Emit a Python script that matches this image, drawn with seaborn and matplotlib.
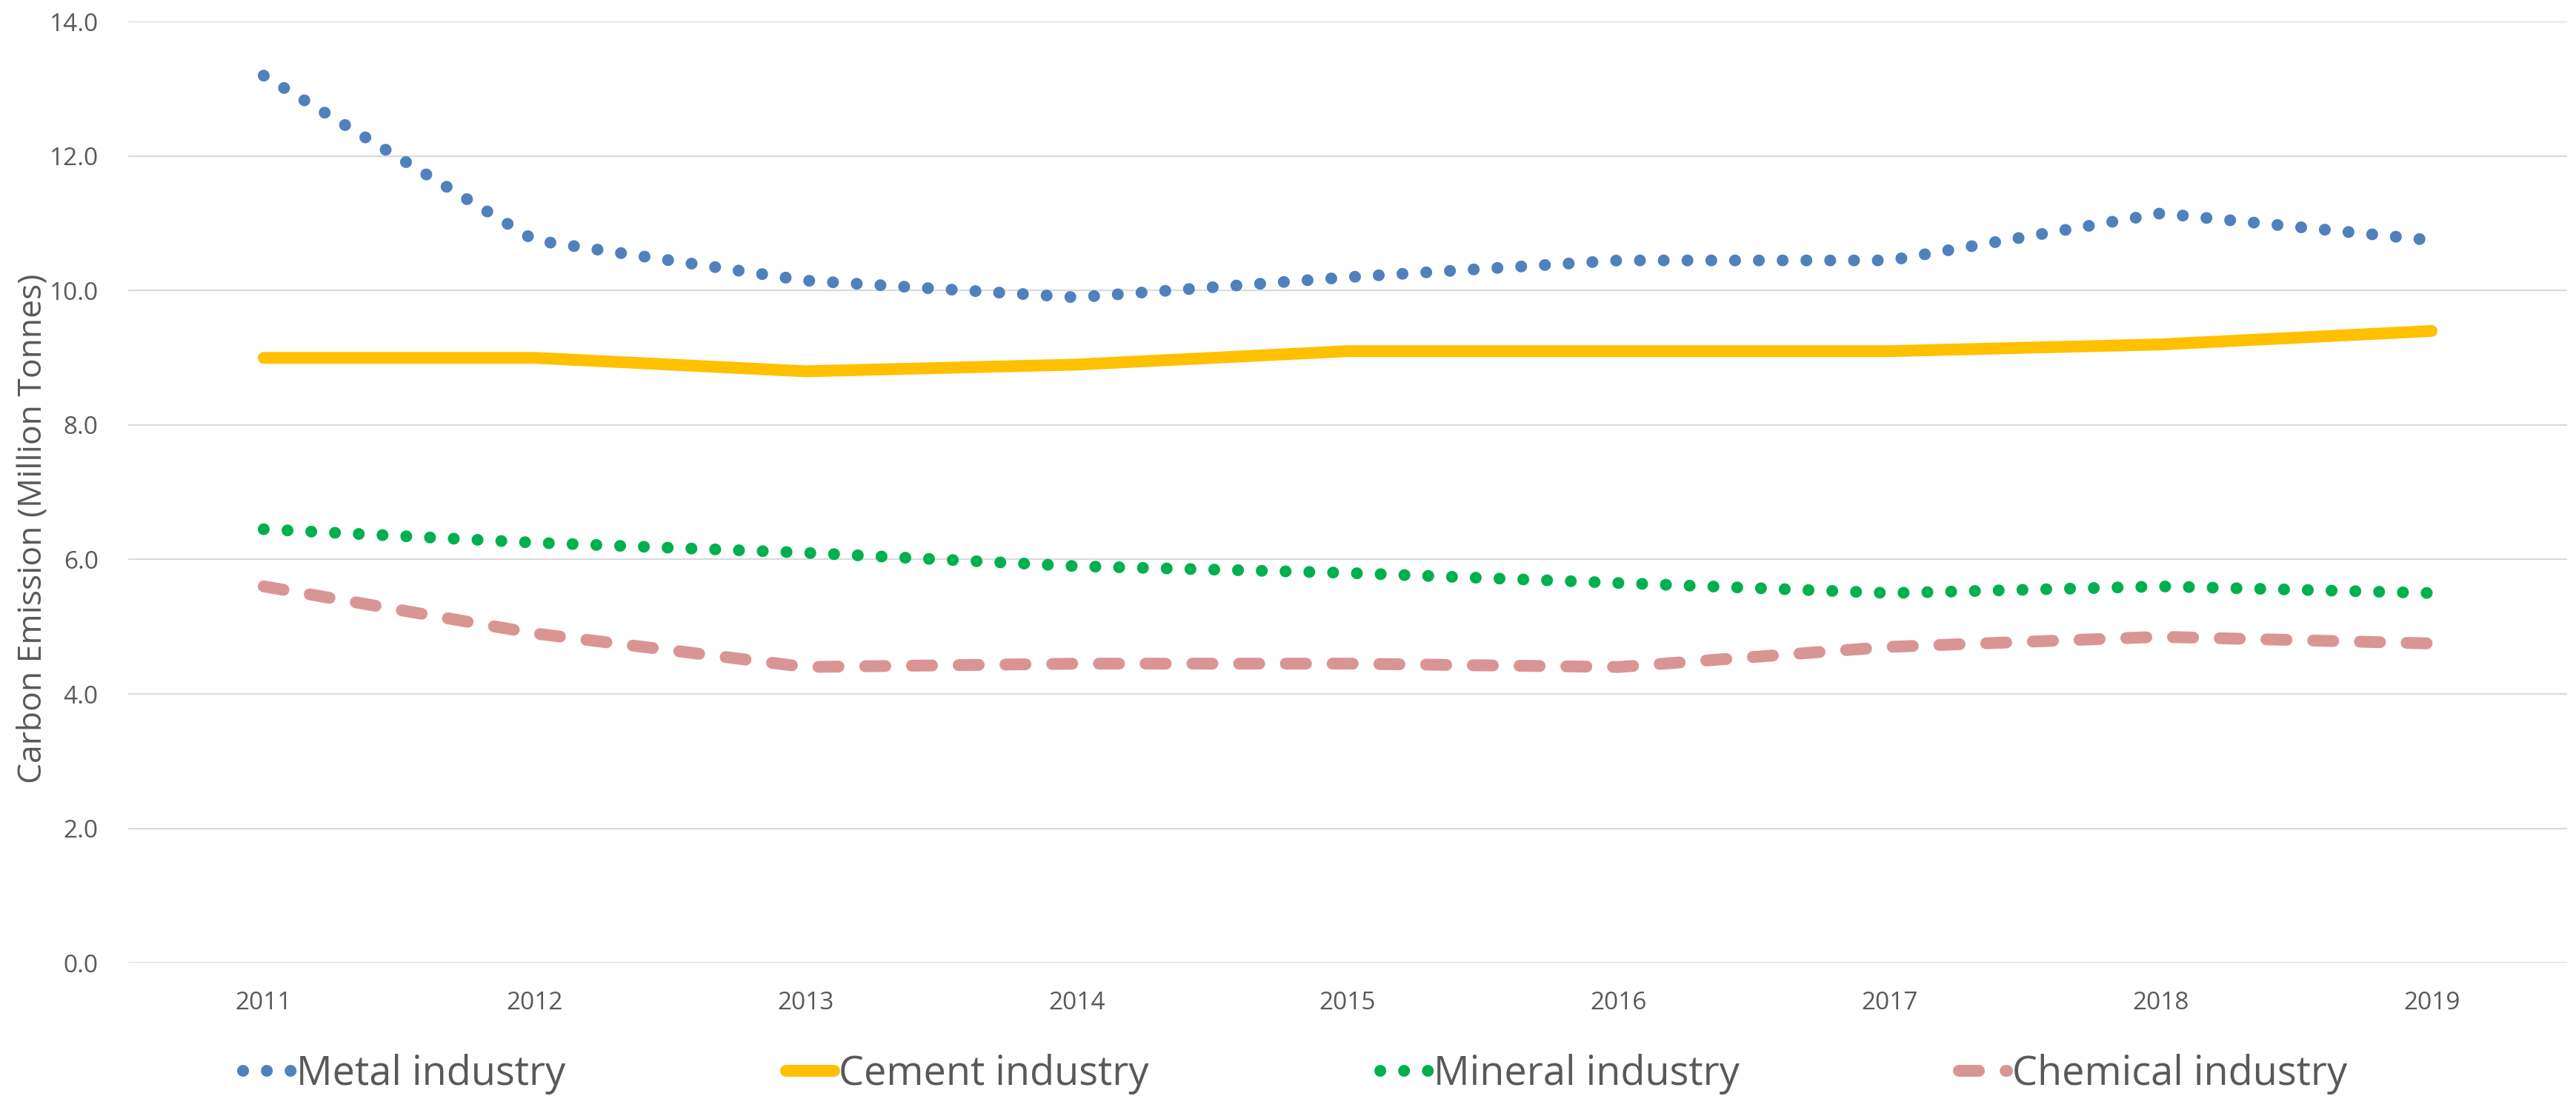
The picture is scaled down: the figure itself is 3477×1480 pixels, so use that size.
import matplotlib
matplotlib.use("Agg")
import matplotlib.pyplot as plt
import seaborn as sns
import pandas as pd
from matplotlib.lines import Line2D

# Carbon emissions by industry (million tonnes)
years = [2011, 2012, 2013, 2014, 2015, 2016, 2017, 2018, 2019]
metal = [13.2, 10.75, 10.15, 9.9, 10.2, 10.45, 10.45, 11.15, 10.75]
cement = [9.0, 9.0, 8.8, 8.9, 9.1, 9.1, 9.1, 9.2, 9.4]
mineral = [6.45, 6.25, 6.1, 5.9, 5.8, 5.65, 5.5, 5.6, 5.5]
chemical = [5.6, 4.9, 4.4, 4.45, 4.45, 4.4, 4.7, 4.85, 4.75]
series_names = ["Metal industry", "Cement industry", "Mineral industry", "Chemical industry"]
y_ticks = [0, 2, 4, 6, 8, 10, 12, 14]

df = pd.DataFrame({"year": years, "Metal industry": metal, "Cement industry": cement,
                   "Mineral industry": mineral, "Chemical industry": chemical})
long_df = df.melt(id_vars="year", var_name="series", value_name="emission")

sns.set_theme(style="whitegrid")
plt.rcParams["font.family"] = ["Open Sans", "DejaVu Sans"]

TEXT = "#595959"
GRID = "#D9D9D9"
LW = 11.5

line_styles = {
    "Metal industry": dict(color="#4F81BD", linestyle=(0, (0.01, 2.0))),
    "Cement industry": dict(color="#FFC000", linestyle="-"),
    "Mineral industry": dict(color="#00B050", linestyle=(0, (0.01, 2.0))),
    "Chemical industry": dict(color="#D99594", linestyle=(0, (1.7, 2.25))),
}

fig = plt.figure(figsize=(34.77, 14.80), dpi=100)
fig.patch.set_facecolor("white")
ax = fig.add_axes([0.04976, 0.12162, 0.94679, 0.85845])

for name in series_names:
    sub = long_df[long_df["series"] == name]
    sns.lineplot(data=sub, x="year", y="emission", ax=ax, legend=False,
                 linewidth=LW, dash_capstyle="round", solid_capstyle="round",
                 **line_styles[name])

ax.set_xlim(2010.5, 2019.5)
ax.set_ylim(0, 14)
ax.set_xticks(years)
ax.set_xticklabels([str(y) for y in years])
ax.set_yticks(y_ticks)
ax.set_yticklabels([f"{v:.1f}" for v in y_ticks])

ax.grid(axis="y", color=GRID, linewidth=1.5)
ax.grid(axis="x", visible=False)
for sp in ax.spines.values():
    sp.set_visible(False)
ax.tick_params(axis="y", length=0, pad=29, labelsize=24, labelcolor=TEXT)
ax.tick_params(axis="x", length=0, pad=27, labelsize=24, labelcolor=TEXT)

ax.set_xlabel("")
ax.set_ylabel("Carbon Emission (Million Tonnes)", fontsize=32, color=TEXT)
ax.yaxis.set_label_coords(-0.0325, 0.461)

# One legend per entry, laid out along the bottom
legend_x = [328, 1061, 1863, 2644]
for name, x0 in zip(series_names, legend_x):
    st = line_styles[name]
    h = Line2D([], [], color=st["color"], linestyle=st["linestyle"], linewidth=LW,
               dash_capstyle="round", solid_capstyle="round")
    leg = fig.legend([h], [name], loc="center left",
                     bbox_to_anchor=(x0 / 3477, 1 - 1450 / 1480),
                     frameon=False, fontsize=39, handlelength=1.2,
                     handletextpad=0.12, borderpad=0, borderaxespad=0)
    for t in leg.get_texts():
        t.set_color(TEXT)

fig.savefig("out.png", dpi=100, facecolor="white")
